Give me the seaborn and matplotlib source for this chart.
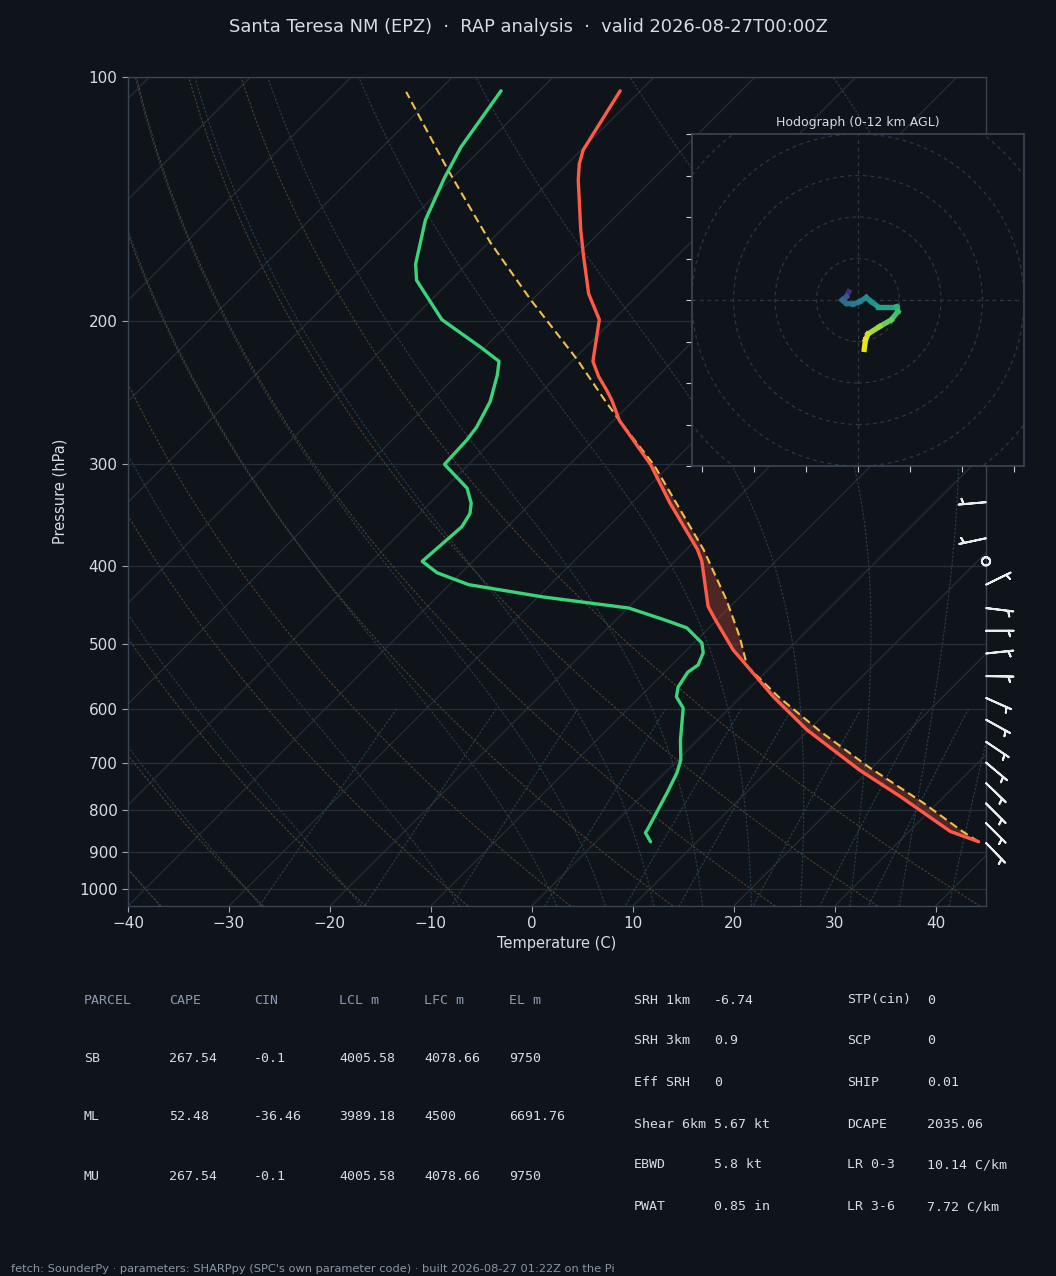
import numpy as np
import matplotlib
matplotlib.use("Agg")
import matplotlib.pyplot as plt
from matplotlib.collections import LineCollection
from matplotlib.patches import Circle
from matplotlib.ticker import NullLocator
import seaborn as sns

# ------------------------------------------------------------------ data
title_text = "Santa Teresa NM (EPZ)  \u00b7  RAP analysis  \u00b7  valid 2026-08-27T00:00Z"
footer_text = ("fetch: SounderPy \u00b7 parameters: SHARPpy (SPC's own parameter code) "
               "\u00b7 built 2026-08-27 01:22Z on the Pi")

# environmental temperature (hPa, degC)
temp_p = [875, 850, 770, 714, 637, 580, 532, 508, 466, 449, 395, 382, 335, 300,
          265, 250, 243, 234, 224, 199, 185, 166, 154, 134, 128, 123, 104]
temp_t = [37.9, 34.1, 25.7, 19.0, 9.8, 3.2, -2.4, -5.4, -10.2, -12.2, -17.3, -18.9,
          -26.2, -32.0, -39.4, -42.2, -43.7, -45.8, -47.9, -51.4, -55.0, -59.3,
          -62.2, -67.3, -68.8, -69.8, -72.0]

# dewpoint (hPa, degC)
dewp_p = [875, 853, 846, 762, 720, 694, 656, 599, 580, 564, 541, 530, 512, 498,
          477, 466, 451, 437, 422, 408, 395, 358, 345, 335, 321, 300, 280, 270,
          251, 233, 224, 215, 199, 178, 170, 150, 133, 122, 104]
dewp_t = [5.4, 4.0, 3.9, 2.2, 1.2, 0.3, -1.7, -4.6, -6.4, -7.2, -7.7, -7.4, -8.1,
          -9.2, -12.2, -15.3, -19.9, -29.5, -38.1, -42.4, -45.0, -44.5, -45.0,
          -45.9, -47.8, -52.4, -52.6, -52.9, -54.1, -56.0, -57.2, -60.5, -67.0,
          -73.4, -75.1, -78.5, -80.8, -82.2, -83.8]

# surface-based parcel (hPa, degC)
parcel_p = [875, 850, 784, 707, 640, 580, 532, 489, 441, 382, 301, 265, 250, 223,
            188, 160, 129.5, 104.3]
parcel_t = [37.9, 35.3, 28.6, 19.5, 11.3, 3.7, -2.4, -6.1, -11.0, -18.3, -31.5,
            -39.4, -42.9, -49.6, -60.2, -69.8, -81.5, -93.1]
el_pressure = 265

# wind barbs (hPa, direction deg, speed kt)
barb_p = [878, 830, 785, 741, 699, 659, 619, 582, 547, 513, 481, 451, 422, 395, 370, 334]
barb_dir = [136, 135, 135, 134, 130, 124, 119, 114, 91, 84, 90, 97, 64, 0, 258, 265]
barb_spd = [4, 4, 4, 4, 4, 4, 4, 4, 4, 4, 4, 4, 4, 0, 5, 5]

# hodograph (kt) and height (km AGL)
hodo_u = [-2.2, -2.8, -3.8, -2.8, -1.2, 0.4, 2.0, 3.2, 4.8, 9.3, 9.6, 8.0, 5.2, 2.4, 1.8, 1.5]
hodo_v = [2.0, 0.8, 0.0, -0.8, -1.0, -0.4, 0.6, -0.4, -1.6, -1.6, -2.8, -4.8, -6.4, -8.2, -9.6, -11.9]
hodo_h = [0.0, 3.0, 3.8, 4.2, 4.6, 5.0, 5.5, 6.0, 6.6, 7.4, 8.0, 8.8, 9.8, 10.8, 11.3, 12.0]

# parameter tables
tbl_head = ["PARCEL", "CAPE", "CIN", "LCL m", "LFC m", "EL m"]
tbl_parcels = ["SB", "ML", "MU"]
tbl_cape = [267.54, 52.48, 267.54]
tbl_cin = [-0.1, -36.46, -0.1]
tbl_lcl = [4005.58, 3989.18, 4005.58]
tbl_lfc = [4078.66, 4500, 4078.66]
tbl_el = [9750, 6691.76, 9750]

kin_labels = ["SRH 1km", "SRH 3km", "Eff SRH", "Shear 6km", "EBWD", "PWAT"]
kin_values = ["-6.74", "0.9", "0", "5.67 kt", "5.8 kt", "0.85 in"]
thr_labels = ["STP(cin)", "SCP", "SHIP", "DCAPE", "LR 0-3", "LR 3-6"]
thr_values = ["0", "0", "0.01", "2035.06", "10.14 C/km", "7.72 C/km"]

pressure_ticks = [100, 200, 300, 400, 500, 600, 700, 800, 900, 1000]
temp_ticks = list(range(-40, 41, 10))

# ------------------------------------------------------------------ style
BG = "#0f141a"
SPINE = "#3a4552"
GRID = "#262e38"
TXT = "#d6dce2"
HEAD = "#8a9bb0"
TICKC = "#9aa5b1"
RED = "#ff5a48"
GREEN = "#3ad47a"
YEL = "#f2c048"
DRY = "#54462f"
MOIST = "#2b4150"
MIX = "#2a4650"
RING = "#2c3845"
FINE = (0, (2.2, 1.6))

sns.set_theme(style="dark", rc={
    "figure.facecolor": BG, "axes.facecolor": BG, "axes.edgecolor": SPINE,
    "grid.color": GRID, "text.color": TXT, "axes.labelcolor": TXT,
    "xtick.color": TICKC, "ytick.color": TICKC,
    "xtick.bottom": True, "ytick.left": True,
})
plt.rcParams["font.family"] = ["DejaVu Sans"]

W, H = 1056, 1276
fig = plt.figure(figsize=(W / 100, H / 100), dpi=100)
fig.patch.set_facecolor(BG)

ax_l, ax_b, ax_w, ax_h = 128 / W, (H - 906) / H, 858 / W, 829 / H
ax = fig.add_axes([ax_l, ax_b, ax_w, ax_h])
ax.set_facecolor(BG)
ax.set_yscale("log")
XMIN, XMAX = -40, 45
P_BOT, P_TOP = 1050.0, 100.0
ax.set_xlim(XMIN, XMAX)
ax.set_ylim(P_BOT, P_TOP)

# 45 degree skew in display space
skew_deg_per_height = (ax_h * H) / (ax_w * W) * (XMAX - XMIN)


def skew(t, p):
    t = np.asarray(t, float)
    p = np.asarray(p, float)
    return t + skew_deg_per_height * np.log(P_BOT / p) / np.log(P_BOT / P_TOP)


# ---- background: isotherms
for t in range(-160, 50, 10):
    ax.plot(skew([t, t], [P_BOT, P_TOP]), [P_BOT, P_TOP], color=GRID, lw=0.9, zorder=1)

pp = np.linspace(P_BOT, P_TOP, 80)
# ---- dry adiabats
for t0 in np.arange(-40, 41, 10):
    tt = (t0 + 273.15) * (pp / 1000.0) ** 0.2857 - 273.15
    ax.plot(skew(tt, pp), pp, color=DRY, lw=0.75, ls=FINE, zorder=1)

# ---- moist adiabats
Rd, Cp, Lv, eps = 287.04, 1005.7, 2.501e6, 0.622


def es(tk):
    return 6.112 * np.exp(17.67 * (tk - 273.15) / (tk - 29.65))


def dtdp(tk, p):
    e = es(tk)
    rs = eps * e / (p - e)
    return (Rd * tk + Lv * rs) / (p * (Cp + Lv * Lv * rs * eps / (Rd * tk * tk)))


def integrate(t0k, pgrid):
    out = [t0k]
    tk = t0k
    for i in range(1, len(pgrid)):
        dp = pgrid[i] - pgrid[i - 1]
        k1 = dtdp(tk, pgrid[i - 1])
        k2 = dtdp(tk + k1 * dp, pgrid[i])
        tk = tk + 0.5 * (k1 + k2) * dp
        out.append(tk)
    return np.array(out)


moist_t0 = np.concatenate((np.arange(-40, 0, 10), np.arange(0, 46, 5))) + 273.15
p_up = np.linspace(1000, 100, 901)
p_dn = np.linspace(1000, 1050, 51)
for t0 in moist_t0:
    up = integrate(t0, p_up)
    dn = integrate(t0, p_dn)
    pc = np.concatenate((p_dn[::-1], p_up[1:]))
    tc = np.concatenate((dn[::-1], up[1:])) - 273.15
    ax.plot(skew(tc, pc), pc, color=MOIST, lw=0.75, ls=FINE, zorder=1)

# ---- mixing ratio lines
pm = np.linspace(600, 1050, 40)
for w in [0.0004, 0.001, 0.002, 0.004, 0.007, 0.01, 0.016, 0.024, 0.032]:
    e = pm * w / (eps + w)
    lg = np.log(e / 6.112)
    td = 243.5 * lg / (17.67 - lg)
    ax.plot(skew(td, pm), pm, color=MIX, lw=0.75, ls=FINE, zorder=1)

# ---- CAPE shading between environment and parcel
tp = np.array(temp_p, float); tt = np.array(temp_t, float)
ppar = np.array(parcel_p, float); tpar = np.array(parcel_t, float)
s1 = tp >= el_pressure
s2 = ppar >= el_pressure
poly_x = np.concatenate((skew(tt[s1], tp[s1]), skew(tpar[s2], ppar[s2])[::-1]))
poly_y = np.concatenate((tp[s1], ppar[s2][::-1]))
ax.fill(poly_x, poly_y, color="#e2553f", alpha=0.30, lw=0, zorder=3)

# ---- profiles
sns.lineplot(x=skew(parcel_t, parcel_p), y=parcel_p, sort=False, estimator=None,
             color=YEL, lw=1.5, linestyle=(0, (4, 2.2)), ax=ax, zorder=4)
sns.lineplot(x=skew(temp_t, temp_p), y=temp_p, sort=False, estimator=None,
             color=RED, lw=2.4, ax=ax, zorder=5)
sns.lineplot(x=skew(dewp_t, dewp_p), y=dewp_p, sort=False, estimator=None,
             color=GREEN, lw=2.4, ax=ax, zorder=5)

# ---- wind barbs on the right edge
bd = np.deg2rad(barb_dir)
bs = np.array(barb_spd, float)
bu = -bs * np.sin(bd)
bv = -bs * np.cos(bd)
ax.barbs(np.ones(len(barb_p)), barb_p, bu, bv, transform=ax.get_yaxis_transform(),
         clip_on=False, length=6.3, color="#e9edf1", linewidth=1.4, zorder=6)

# ---- axes cosmetics
ax.set_yticks(pressure_ticks)
ax.set_yticklabels([str(v) for v in pressure_ticks])
ax.yaxis.set_minor_locator(NullLocator())
ax.set_xticks(temp_ticks)
ax.grid(False)
ax.yaxis.grid(True, color=GRID, lw=0.9)
ax.tick_params(axis="both", which="major", length=4, width=0.8, color=TICKC,
               labelcolor=TXT, labelsize=11, direction="out")
for s in ax.spines.values():
    s.set_color(SPINE)
    s.set_linewidth(1.0)
ax.set_xlabel("Temperature (C)", fontsize=10.5, color=TXT, labelpad=3)
ax.set_ylabel("Pressure (hPa)", fontsize=10.5, color=TXT, labelpad=8)

# ------------------------------------------------------------------ hodograph
axh = fig.add_axes([692 / W, (H - 466) / H, 332 / W, 332 / H])
axh.set_facecolor(BG)
axh.set_xlim(-40, 40)
axh.set_ylim(-40, 40)
for r in range(10, 70, 10):
    axh.add_patch(Circle((0, 0), r, fill=False, ls=(0, (3, 3)), ec=RING, lw=0.9, zorder=1))
axh.axhline(0, color=RING, lw=0.9, ls=(0, (3, 3)), zorder=1)
axh.axvline(0, color=RING, lw=0.9, ls=(0, (3, 3)), zorder=1)
pts = np.column_stack([hodo_u, hodo_v])
segs = np.stack([pts[:-1], pts[1:]], axis=1)
hh = np.array(hodo_h, float)
lc = LineCollection(segs, cmap="viridis", norm=plt.Normalize(0, 12), linewidths=3.8,
                    capstyle="projecting", zorder=3)
lc.set_array((hh[:-1] + hh[1:]) / 2)
axh.add_collection(lc)
axh.set_xticks([-37.5, -25, -12.5, 0, 12.5, 25, 37.5])
axh.set_yticks(list(range(-40, 41, 10)))
axh.grid(False)
axh.tick_params(length=4, width=0.8, color="#c5ccd3", labelbottom=False, labelleft=False,
                direction="out")
for s in axh.spines.values():
    s.set_color(SPINE)
axh.set_title("Hodograph (0-12 km AGL)", fontsize=9, color=TXT, pad=6)

# ------------------------------------------------------------------ texts
fig.text(0.5, 1 - 27 / H, title_text, ha="center", va="center", fontsize=12.9, color=TXT)

MONO = ["DejaVu Sans Mono"]
col_x = [84, 169, 254, 339, 424, 509]
for x, h in zip(col_x, tbl_head):
    fig.text(x / W, 1 - 1000 / H, h, ha="left", va="center", fontsize=9.5,
             family=MONO, color=HEAD)
row_y = [1058, 1117, 1176]
for i, y in enumerate(row_y):
    vals = [tbl_parcels[i], f"{tbl_cape[i]:g}", f"{tbl_cin[i]:g}", f"{tbl_lcl[i]:g}",
            f"{tbl_lfc[i]:g}", f"{tbl_el[i]:g}"]
    for x, v in zip(col_x, vals):
        fig.text(x / W, 1 - y / H, v, ha="left", va="center", fontsize=9.5,
                 family=MONO, color=TXT)

rows2 = [1000, 1041, 1083, 1124, 1165, 1207]
for i, y in enumerate(rows2):
    for x, v in ((634, kin_labels[i]), (714, kin_values[i]),
                 (847, thr_labels[i]), (927, thr_values[i])):
        fig.text(x / W, 1 - y / H, v, ha="left", va="center", fontsize=9.5,
                 family=MONO, color=TXT)

fig.text(11 / W, 1 - 1269 / H, footer_text, ha="left", va="center", fontsize=8.2,
         color="#8896a5")

fig.savefig("out.png", dpi=100, facecolor=BG)
